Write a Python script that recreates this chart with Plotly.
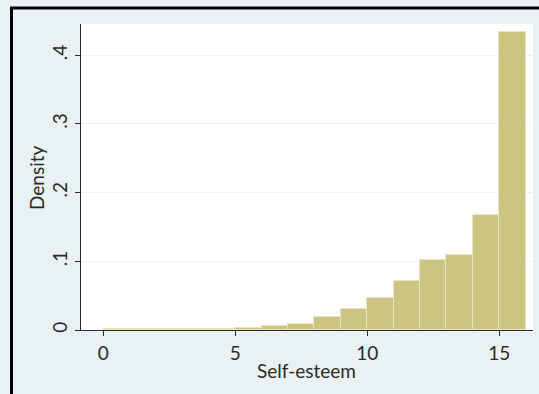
import plotly.graph_objects as go

# Histogram of self-esteem scores (density scale, bins of width 1)
bin_left = list(range(16))
density = [0.0012, 0.0012, 0.0012, 0.0012, 0.0012, 0.0033, 0.0053, 0.0082,
           0.0185, 0.031, 0.047, 0.072, 0.102, 0.109, 0.167, 0.4335]
x_ticks = [0, 5, 10, 15]
y_ticks = [0, 0.1, 0.2, 0.3, 0.4]
y_tick_labels = ["0", ".1", ".2", ".3", ".4"]
x_title = "Self-esteem"
y_title = "Density"

W, H = 539, 394
L, R, T, B = 81, 6, 24, 64
pw, ph = W - L - R, H - T - B

def px_to_paper_x(px):
    return (px - L) / pw

def px_to_paper_y(py):
    return (H - B - py) / ph

font_family = "Lato, 'Open Sans', sans-serif"
bg = "#eaf1f3"
ink = "#2a2a2a"

fig = go.Figure()
fig.add_trace(go.Bar(
    x=[b + 0.5 for b in bin_left],
    y=density,
    width=1,
    marker=dict(color="rgb(204,196,131)",
                line=dict(color="rgb(232,228,190)", width=1)),
    showlegend=False,
))

fig.update_layout(
    width=W, height=H,
    margin=dict(l=L, r=R, t=T, b=B),
    paper_bgcolor=bg,
    plot_bgcolor="white",
    font=dict(family=font_family, size=19, color=ink),
    bargap=0,
    xaxis=dict(
        range=[-0.845, 16.28],
        tickvals=x_ticks,
        ticks="outside", ticklen=5, tickcolor=ink, tickwidth=1,
        ticklabelstandoff=1,
        showline=True, linecolor=ink, linewidth=1,
        showgrid=False, zeroline=False,
    ),
    yaxis=dict(
        range=[0, 0.4455],
        tickvals=y_ticks,
        ticktext=y_tick_labels,
        tickangle=-90,
        ticks="outside", ticklen=5, tickcolor=ink, tickwidth=1,
        showline=True, linecolor=ink, linewidth=1,
        showgrid=True, gridcolor="#edf3f4", gridwidth=1,
        zeroline=False,
    ),
    annotations=[
        dict(text=x_title, xref="paper", yref="paper",
             x=px_to_paper_x(306), y=px_to_paper_y(370),
             xanchor="center", yanchor="middle", showarrow=False),
        dict(text=y_title, xref="paper", yref="paper",
             x=px_to_paper_x(36), y=px_to_paper_y(178), textangle=-90,
             xanchor="center", yanchor="middle", showarrow=False),
    ],
    shapes=[
        # window frame lines along top and left edge
        dict(type="line", xref="paper", yref="paper",
             x0=px_to_paper_x(10), x1=px_to_paper_x(W),
             y0=px_to_paper_y(8), y1=px_to_paper_y(8),
             line=dict(color="black", width=3)),
        dict(type="line", xref="paper", yref="paper",
             x0=px_to_paper_x(11.5), x1=px_to_paper_x(11.5),
             y0=px_to_paper_y(7), y1=px_to_paper_y(H),
             line=dict(color="black", width=3)),
    ],
)

fig.write_html("out.html")
